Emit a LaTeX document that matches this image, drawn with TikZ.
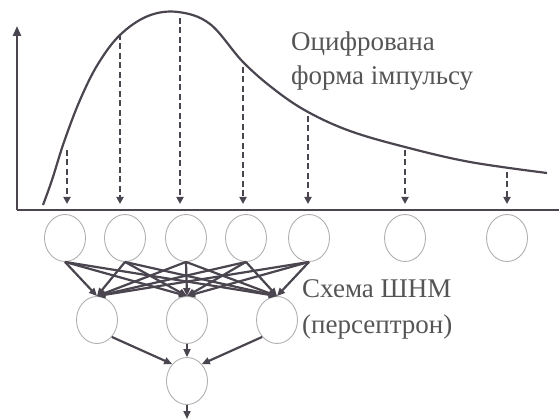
\documentclass[tikz,border=0pt]{standalone}
\usepackage{fontspec}
\setmainfont{Liberation Serif}
\usetikzlibrary{shapes.geometric,arrows.meta}
\definecolor{ink}{HTML}{4A454F}
\definecolor{txt}{HTML}{555555}
\definecolor{cgray}{HTML}{B0B0B0}
\tikzset{
  neuron/.style={ellipse,draw=cgray,line width=0.9pt,minimum width=41pt,minimum height=47pt,inner sep=0pt},
  samp/.style={draw=ink,line width=2.6pt,dash pattern=on 6pt off 3.5pt,-{Triangle[length=7pt,width=7pt]}},
  link/.style={draw=ink,line width=2.2pt,-{Triangle[length=8pt,width=7pt]}},
  axis/.style={draw=ink,line width=2.6pt},
  lbl/.style={text=txt,font=\fontsize{27}{32}\selectfont,anchor=west,inner sep=0pt,align=left}
}
\begin{document}
\begin{tikzpicture}[x=1pt,y=-1pt]
\useasboundingbox (0,0) rectangle (559,419);
% axes
\coordinate (o) at (17,210);
\coordinate (ytop) at (17,26);
\coordinate (xend) at (559,210);
\draw[axis,-{Triangle[length=10pt,width=8pt]}] (o) -- (ytop);
\draw[axis] (o) -- (xend);
% curve
\draw[ink,line width=2.2pt] plot[smooth,tension=0.6] coordinates {(43,205) (52,180) (64,142) (80,100) (98,64) (120,35) (148,16) (178,12) (210,24) (243,62) (275,90) (308,112) (350,131) (405,147) (470,162) (547,173)};
% samples
\foreach \i/\x/\t in {1/67/150,2/120/34,3/180/18,4/243/67,5/308/116,6/405/150,7/507/172}{
  \coordinate (s\i) at (\x,\t);
  \coordinate (a\i) at (\x,204);
  \draw[samp] (s\i) -- (a\i);
}
% layer 1
\foreach \i/\x in {1/65,2/125,3/186,4/246,5/309,6/405,7/507}{
  \node[neuron] (n\i) at (\x,238) {};
}
% layer 2
\node[neuron] (m1) at (97,320) {};
\node[neuron] (m2) at (187,320) {};
\node[neuron] (m3) at (277,320) {};
% output
\node[neuron] (out) at (187,381) {};
\coordinate (end) at (187,419);
% links
\foreach \i in {1,...,5}{
  \foreach \j in {1,2,3}{
    \draw[link] (n\i.south) -- (m\j.north);
  }
}
\draw[link] (m1.south east) -- (out.north west);
\draw[link] (m2.south) -- (out.north);
\draw[link] (m3.south west) -- (out.north east);
\draw[link] (out.south) -- (end);
% labels
\node[lbl] (t1) at (291,44) {Оцифрована};
\node[lbl] (t2) at (291,78) {форма імпульсу};
\node[lbl] (t3) at (302,289) {Схема ШНМ};
\node[lbl] (t4) at (302,327) {(персептрон)};
\end{tikzpicture}
\end{document}
